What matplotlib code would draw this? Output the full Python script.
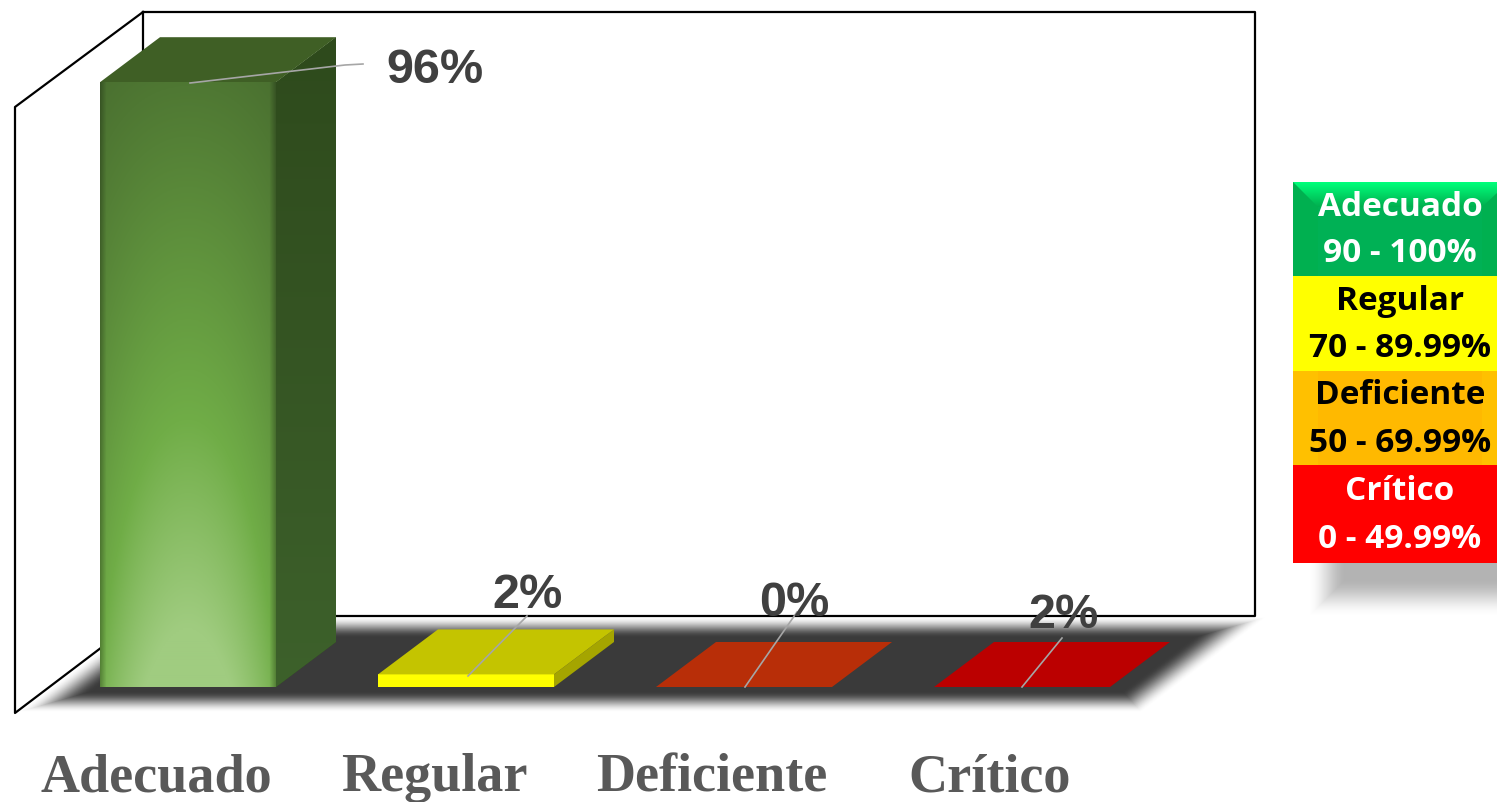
import numpy as np
import matplotlib
matplotlib.use("Agg")
import matplotlib.pyplot as plt
from matplotlib.patches import Polygon, Rectangle

# Chart values
categories = ["Adecuado", "Regular", "Deficiente", "Crítico"]
bar_heights = [96, 2, 0, 0]
value_labels = ["96%", "2%", "0%", "2%"]
front_colors = ["#70ad47", "#ffff00", "#c63a0c", "#c00000"]
top_colors = ["#3f5f25", "#c4c400", "#b82e08", "#bb0000"]
side_colors = ["#31501f", "#a5a500", "#b82e08", "#bb0000"]

# Legend
legend_rows = [
    ("Adecuado", "90 - 100%", "#00b050", "white"),
    ("Regular", "70 - 89.99%", "#ffff00", "black"),
    ("Deficiente", "50 - 69.99%", "#ffc000", "black"),
    ("Crítico", "0 - 49.99%", "#ff0000", "white"),
]
legend_edges = [182, 276, 371, 465, 563]

W, H = 1497, 802
X_STEP = 278.0   # px between categories
X_0 = 188.0      # px of first bar centre
Y_0 = 687.0      # px of value 0
Y_UNIT = 6.3     # px per percent
BAR_W = 176 / X_STEP
DX = 60 / X_STEP
DY = 45 / Y_UNIT

fig = plt.figure(figsize=(W / 100, H / 100), dpi=100)

# background axes in pixels for walls, floor and legend
bg = fig.add_axes([0, 0, 1, 1], zorder=0)
bg.set_xlim(0, W)
bg.set_ylim(H, 0)
bg.axis("off")


def fade_image(ax, dist, color, extent, zorder, strength=1.0, width=20.0):
    t = np.clip(dist / width, 0, 1)
    t = t * t * (3 - 2 * t)
    rgba = np.zeros(dist.shape + (4,))
    rgba[..., :3] = matplotlib.colors.to_rgb(color)
    rgba[..., 3] = t * strength
    ax.imshow(rgba, extent=extent, origin="upper", aspect="auto", zorder=zorder, interpolation="bilinear")


# dark floor with soft edges
xx, yy = np.meshgrid(np.arange(0, 1300), np.arange(600, 730))
slope = (143 - 15) / (713 - 616)
left = (xx - (15 + (713 - yy) * slope)) * 0.45
right = ((1140 + (713 - yy) * slope) - xx) * 0.45
d = np.minimum.reduce([yy - 616.0, 712.0 - yy, left, right])
fade_image(bg, d, "#3a3a3a", (0, 1300, 730, 600), 1, width=21)

# walls
bg.plot([143, 1255, 1255, 143, 143], [12, 12, 616, 616, 12], color="black", lw=1.6, zorder=2)
bg.plot([143, 15, 15, 143], [12, 107, 713, 616], color="black", lw=1.6, zorder=2)

# shadow under the legend
xx, yy = np.meshgrid(np.arange(1290, W), np.arange(540, 630))
d = np.minimum.reduce([xx - 1308.0, 616.0 - yy])
fade_image(bg, d, "#a0a0a0", (1290, W, 630, 540), 3, strength=0.8, width=38)

# legend
for i, (name, rng, color, txt) in enumerate(legend_rows):
    y0, y1 = legend_edges[i], legend_edges[i + 1]
    bg.add_patch(Rectangle((1293, y0), W - 1293, y1 - y0, fc=color, ec="none", zorder=4))
    mid = (y0 + y1) / 2
    bg.text(1400, mid - 22, name, family="Open Sans", weight="bold", fontsize=24, color=txt,
            ha="center", va="center", zorder=6)
    bg.text(1400, mid + 25, rng, family="Open Sans", weight="bold", fontsize=24, color=txt,
            ha="center", va="center", zorder=6)
bg.add_patch(Rectangle((1318, 207), 164, 69, fc="#00b25a", ec="none", zorder=5, alpha=0.6))
bg.add_patch(Rectangle((1318, 371), 164, 94, fc="#ffb900", ec="none", zorder=4.5))
grad = np.zeros((26, 1, 3))
grad[..., 0] = 0
grad[..., 1] = np.linspace(1.0, 0.69, 26)[:, None]
grad[..., 2] = np.linspace(0.48, 0.31, 26)[:, None]
im = bg.imshow(grad, extent=(1293, W, 207, 182), aspect="auto", zorder=5, origin="upper")
im.set_clip_path(Polygon([(1293, 182), (W, 182), (W, 193), (1482, 207), (1318, 207)],
                         transform=bg.transData))
bg.set_xlim(0, W)
bg.set_ylim(H, 0)

# data axes: x in category index, y in percent
ax = fig.add_axes([0, 0, 1, 1], zorder=1)
ax.patch.set_alpha(0)
xlim = (-X_0 / X_STEP, (W - X_0) / X_STEP)
ylim = ((Y_0 - H) / Y_UNIT, Y_0 / Y_UNIT)
ax.set_xlim(*xlim)
ax.set_ylim(*ylim)
ax.axis("off")

for i, (h, fc, tc, sc) in enumerate(zip(bar_heights, front_colors, top_colors, side_colors)):
    l = i - BAR_W / 2
    r = i + BAR_W / 2
    if h > 0:
        side = Polygon([(r, 0), (r + DX, DY), (r + DX, h + DY), (r, h)], fc=sc, ec="none", zorder=2)
        ax.add_patch(side)
        front = Rectangle((l, 0), BAR_W, h, fc=fc, ec="none", zorder=3)
        ax.add_patch(front)
    ax.add_patch(Polygon([(l, h), (r, h), (r + DX, h + DY), (l + DX, h + DY)], fc=tc, ec="none", zorder=3))
    if i == 0:
        # shaded column: dark at the top and rims, pale at the bottom centre
        u = np.linspace(-1, 1, 176)
        t = np.linspace(0, 1, 300)
        uu, tt = np.meshgrid(u, t)
        dark = np.array(matplotlib.colors.to_rgb("#4a7030"))
        mid = np.array(matplotlib.colors.to_rgb("#70ad47"))
        pale = np.array(matplotlib.colors.to_rgb("#a0cc80"))
        centre = 1 - np.abs(uu) ** 2
        v = (tt * (0.68 + 0.34 * centre) + 0.08 * centre).clip(0, 1)[..., None]
        img = np.where(v < 0.65, dark + (mid - dark) * v / 0.65, mid + (pale - mid) * (v - 0.65) / 0.35)
        rim = np.clip((1 - np.abs(uu)) / 0.07, 0, 1)[..., None]
        img = img * (0.75 + 0.25 * rim)
        g = ax.imshow(img, extent=(l, r, 0, h), origin="upper", aspect="auto", zorder=3.5)
        g.set_clip_path(front)
        # side face shading
        shade = np.zeros((300, 1, 3))
        shade[:, 0, :] = np.linspace(matplotlib.colors.to_rgb("#2e4a1c"),
                                     matplotlib.colors.to_rgb("#3d612b"), 300)
        s = ax.imshow(shade, extent=(r, r + DX, 0, h + DY), origin="upper", aspect="auto", zorder=2.5)
        s.set_clip_path(side)
ax.set_xlim(*xlim)
ax.set_ylim(*ylim)

# leader lines and value labels, offsets in px from the bar base
label_pos = [(435, 71), (527, 595), (794, 604), (1063, 616)]
leaders = [
    [(190, 83), (345, 65), (363, 64)],
    [(468, 676), (527, 616)],
    [(745, 687), (797, 612)],
    [(1022, 687), (1062, 638)],
]
for lab, (px, py), pts in zip(value_labels, label_pos, leaders):
    bg_pts = np.array(pts, float)
    lx = (bg_pts[:, 0] - X_0) / X_STEP
    ly = (Y_0 - bg_pts[:, 1]) / Y_UNIT
    ax.plot(lx, ly, color="#a6a6a6", lw=1.2, zorder=5)
    ax.text((px - X_0) / X_STEP, (Y_0 - py) / Y_UNIT, lab, family="Liberation Sans", weight="bold",
            fontsize=35, color="#404040", ha="center", va="center", zorder=6)

# category labels
for i, name in enumerate(categories):
    ax.text(i - 32 / X_STEP, (Y_0 - 778) / Y_UNIT, name, family="Liberation Serif", weight="bold",
            fontsize=39, color="#595959", ha="center", va="center", zorder=6)

fig.savefig("out.png", dpi=100)
